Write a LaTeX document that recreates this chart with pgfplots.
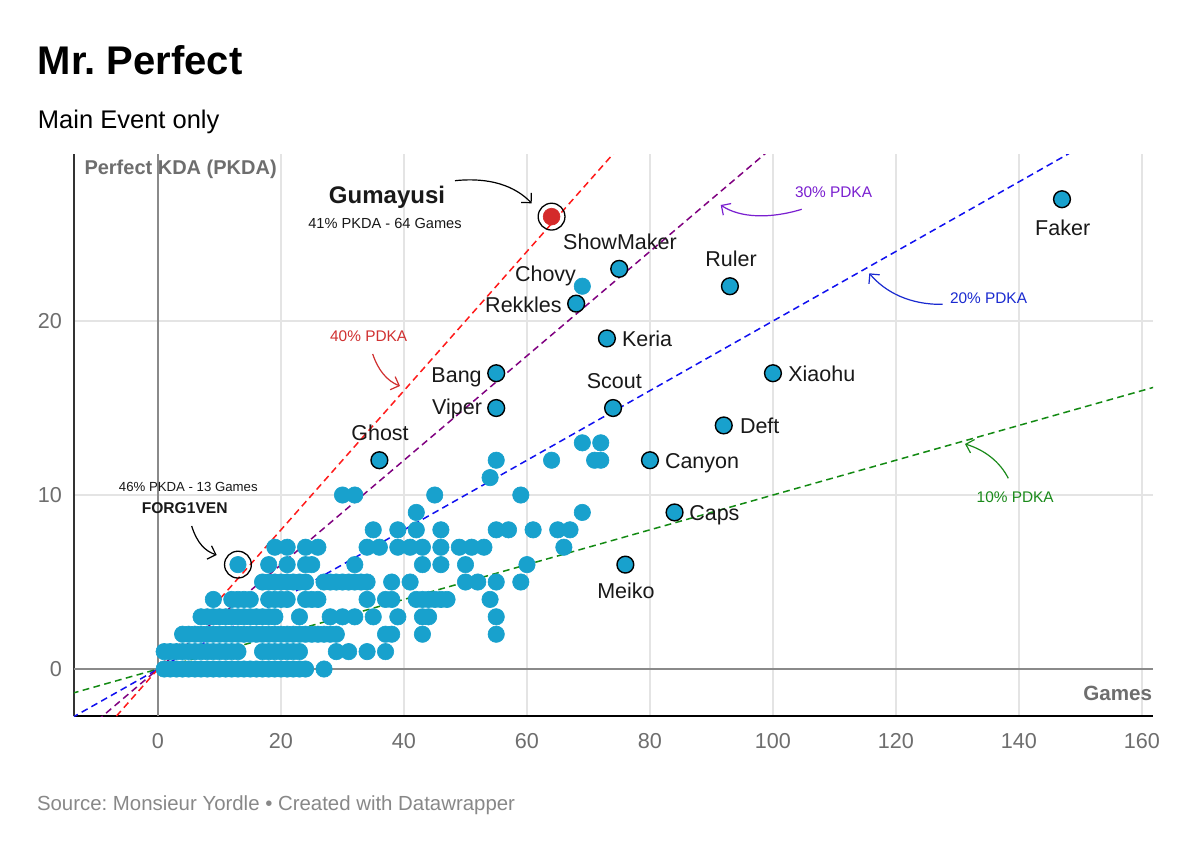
\documentclass[border=0pt]{standalone}
\usepackage{pgfplots}
\pgfplotsset{compat=1.18}
\usepackage{fontspec}
\setmainfont{Liberation Sans}
\usetikzlibrary{arrows.meta}
\definecolor{dotblue}{HTML}{18A1CD}
\definecolor{gumared}{HTML}{D42A2A}
\definecolor{gridgray}{HTML}{E4E4E4}
\definecolor{zerogray}{HTML}{8A8A8A}
\definecolor{ticktext}{HTML}{6E6E6E}
\definecolor{srcgray}{HTML}{888888}
\definecolor{lred}{HTML}{FF1A1A}
\definecolor{lpurple}{HTML}{800080}
\definecolor{lblue}{HTML}{1010F0}
\definecolor{lgreen}{HTML}{138A13}
\definecolor{tred}{HTML}{D03030}
\definecolor{tpurple}{HTML}{7A1FD0}
\definecolor{tblue}{HTML}{1A2AD0}
\definecolor{tgreen}{HTML}{1A8A1A}
\newcommand\fs[1]{\fontsize{#1}{#1}\selectfont}
\frenchspacing
\begin{document}
\begin{tikzpicture}
\path[use as bounding box] (0,0) rectangle (600pt,426.5pt);
\fill[white] (0,0) rectangle (600pt,426.5pt);
\begin{axis}[
  at={(37pt,68.5pt)}, anchor=south west,
  scale only axis, width=539.5pt, height=281pt,
  xmin=-13.66, xmax=161.8, ymin=-2.7, ymax=29.6,
  xtick={0,20,...,160}, ytick={0,10,20},
  major tick length=0pt,
  grid=major, grid style={gridgray, line width=0.8pt},
  axis lines=left, axis line style={-},
  x axis line style={black, line width=1pt},
  y axis line style={black!80, line width=0.65pt},
  /pgf/number format/assume math mode=true,
  tick label style={font=\fs{10.8}, text=ticktext},
  xticklabel style={yshift=-5pt},
  yticklabel style={xshift=-2.5pt},
  clip=true,
]
\draw[zerogray, line width=0.65pt] (axis cs:0,-2.7) -- (axis cs:0,29.6);
\draw[zerogray, line width=0.65pt] (axis cs:-13.66,0) -- (axis cs:161.8,0);
% unlabeled dots
\addplot[dotblue, only marks, mark=*, mark size=4.1pt, mark options={fill=dotblue, draw=dotblue, line width=0.3pt}] coordinates {
(1,0)(2,0)(3,0)(4,0)(5,0)(6,0)(7,0)(8,0)(9,0)(10,0)(11,0)(12,0)(13,0)(14,0)(15,0)(16,0)(17,0)(18,0)(19,0)(20,0)(21,0)(22,0)(23,0)(24,0)(27,0)
(1,1)(2,1)(3,1)(4,1)(5,1)(6,1)(7,1)(8,1)(9,1)(10,1)(11,1)(12,1)(13,1)(17,1)(18,1)(19,1)(20,1)(21,1)(22,1)(23,1)(29,1)(31,1)(34,1)(37,1)
(4,2)(5,2)(6,2)(7,2)(8,2)(9,2)(10,2)(11,2)(12,2)(13,2)(14,2)(15,2)(16,2)(17,2)(18,2)(19,2)(20,2)(21,2)(22,2)(23,2)(24,2)(25,2)(26,2)(27,2)(28,2)(29,2)(37,2)(38,2)(43,2)(55,2)
(7,3)(8,3)(9,3)(10,3)(11,3)(12,3)(13,3)(14,3)(15,3)(16,3)(17,3)(18,3)(19,3)(23,3)(28,3)(30,3)(32,3)(35,3)(39,3)(43,3)(44,3)(55,3)
(9,4)(12,4)(13,4)(14,4)(15,4)(18,4)(19,4)(20,4)(21,4)(24,4)(25,4)(26,4)(34,4)(37,4)(38,4)(42,4)(43,4)(44,4)(45,4)(46,4)(47,4)(54,4)
(17,5)(18,5)(19,5)(20,5)(21,5)(22,5)(23,5)(24,5)(27,5)(28,5)(29,5)(30,5)(31,5)(32,5)(33,5)(34,5)(38,5)(41,5)(50,5)(52,5)(55,5)(59,5)
(13,6)(18,6)(21,6)(24,6)(25,6)(32,6)(43,6)(46,6)(50,6)(60,6)
(19,7)(21,7)(24,7)(26,7)(34,7)(36,7)(39,7)(41,7)(43,7)(46,7)(49,7)(51,7)(53,7)(66,7)
(35,8)(39,8)(42,8)(46,8)(55,8)(57,8)(61,8)(65,8)(67,8)
(42,9)(69,9)
(30,10)(32,10)(45,10)(59,10)
(54,11)
(55,12)(64,12)(71,12)(72,12)
(69,13)(72,13)
(69,22)
};
% labeled dots
\addplot[black, only marks, mark=*, mark size=4.2pt, mark options={fill=dotblue, draw=black, line width=0.7pt}] coordinates {
(75,23)(68,21)(93,22)(73,19)(55,17)(55,15)(74,15)(36,12)(100,17)(92,14)(80,12)(84,9)(76,6)(147,27)
};
\addplot[gumared, only marks, mark=*, mark size=4.2pt, mark options={fill=gumared, draw=gumared, line width=0.3pt}] coordinates {(64,26)};
\addplot[black, only marks, mark=o, mark size=6.7pt, mark options={draw=black, fill=none, line width=0.65pt}] coordinates {(13,6)(64,26)};
% reference lines
\addplot[lgreen, line width=0.75pt, dash pattern=on 3.4pt off 2.2pt] coordinates {(-14,-1.4)(162,16.2)};
\addplot[lblue, line width=0.75pt, dash pattern=on 3.4pt off 2.2pt] coordinates {(-14,-2.8)(160,32)};
\addplot[lpurple, line width=0.75pt, dash pattern=on 3.4pt off 2.2pt] coordinates {(-14,-4.2)(100,30)};
\addplot[lred, line width=0.75pt, dash pattern=on 3.4pt off 2.2pt] coordinates {(-14,-5.6)(80,32)};
\end{axis}
\begin{scope}[x=0.5pt, y=-0.5pt, yshift=426.5pt]
\tikzset{every node/.style={inner sep=0pt, outer sep=0pt}}
\node[anchor=base west, font=\fs{20}\bfseries] at (38,75) {Mr. Perfect};
\node[anchor=base west, font=\fs{12.75}] at (38,128.3) {Main Event only};
\node[anchor=base west, font=\fs{10.2}, text=srcgray] at (37,810) {Source: Monsieur Yordle • Created with Datawrapper};
\node[anchor=base west, font=\fs{10}\bfseries, text=ticktext] at (84.5,174.3) {Perfect KDA (PKDA)};
\node[anchor=base east, font=\fs{10.3}\bfseries, text=ticktext] at (1152,700.7) {Games};
% player labels
\tikzset{pl/.style={font=\fs{10.75}, text=black!90}}
\node[pl, anchor=base] at (620,250) {ShowMaker};
\node[pl, anchor=base east] at (576,281.7) {Chovy};
\node[pl, anchor=base east] at (561.7,312.3) {Rekkles};
\node[pl, anchor=base] at (731,266.7) {Ruler};
\node[pl, anchor=base west] at (622,346.7) {Keria};
\node[pl, anchor=base east] at (481.7,382.3) {Bang};
\node[pl, anchor=base east] at (482,415) {Viper};
\node[pl, anchor=base] at (614.3,388.3) {Scout};
\node[pl, anchor=base west] at (740,433) {Deft};
\node[pl, anchor=base west] at (665,468.3) {Canyon};
\node[pl, anchor=base west] at (689.3,520.7) {Caps};
\node[pl, anchor=base] at (626,598.3) {Meiko};
\node[pl, anchor=base] at (1062.7,235.3) {Faker};
\node[pl, anchor=base west] at (788.3,381.7) {Xiaohu};
\node[pl, anchor=base] at (380,440.7) {Ghost};
% highlights
\node[anchor=base, font=\fs{12}\bfseries, text=black!90] at (387,203.3) {Gumayusi};
\node[anchor=base, font=\fs{7.3}, text=black!90] at (385,228.3) {41\% PKDA - 64 Games};
\node[anchor=base, font=\fs{6.6}, text=black!90] at (188.3,491) {46\% PKDA - 13 Games};
\node[anchor=base, font=\fs{7.8}\bfseries, text=black!90] at (184.7,513.3) {FORG1VEN};
% line labels
\node[anchor=base, font=\fs{7.7}, text=tred] at (368.7,341.7) {40\% PDKA};
\node[anchor=base west, font=\fs{7.7}, text=tpurple] at (795,197.3) {30\% PDKA};
\node[anchor=base west, font=\fs{7.7}, text=tblue] at (950,304) {20\% PDKA};
\node[anchor=base west, font=\fs{7.7}, text=tgreen] at (976.7,502.7) {10\% PDKA};
% arrows
\tikzset{arr/.style={line width=0.6pt, -{Straight Barb[length=3.5pt,width=7pt]}}}
\draw[arr, black] (191.7,526) .. controls (197,543) and (205,551) .. (216.7,555);
\draw[arr, black] (455,180.7) .. controls (490,177) and (515,186) .. (531.7,203.3);
\draw[arr, tred] (372.7,354) .. controls (378,370) and (387,381) .. (400,386);
\draw[arr, tpurple] (801.7,209.3) .. controls (770,219) and (740,218) .. (720.7,205);
\draw[arr, tblue] (942.7,304.3) .. controls (910,305) and (885,292) .. (869.3,273.3);
\draw[arr, tgreen] (1008.3,478.3) .. controls (1000,462) and (985,450) .. (965,444);
\end{scope}
\end{tikzpicture}
\end{document}
